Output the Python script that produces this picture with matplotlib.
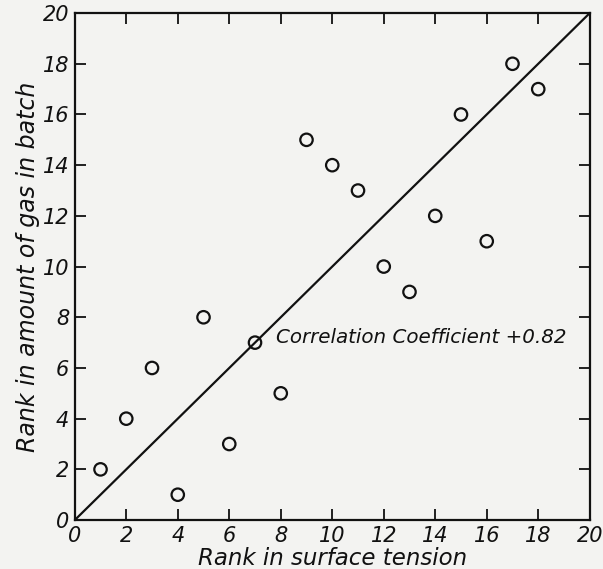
import matplotlib
matplotlib.use("Agg")
import matplotlib.pyplot as plt

surface_rank = [1, 2, 3, 4, 5, 6, 7, 8, 9, 10, 11, 12, 13, 14, 15, 16, 17, 18]
gas_rank = [2, 4, 6, 1, 8, 3, 7, 5, 15, 14, 13, 10, 9, 12, 16, 11, 18, 17]
ticks = list(range(0, 21, 2))
line_x = [0, 20]
line_y = [0, 20]

bg = "#f3f3f1"
fig = plt.figure(figsize=(6.03, 5.69), dpi=100, facecolor=bg)
ax = fig.add_axes([0.124, 0.086, 0.854, 0.891], facecolor=bg)

ax.plot(line_x, line_y, color="#111111", lw=1.6)
ax.scatter(surface_rank, gas_rank, s=80, facecolors="none", edgecolors="#111111", linewidths=1.6, zorder=3)

ax.set_xlim(0, 20)
ax.set_ylim(0, 20)
ax.set_xticks(ticks)
ax.set_yticks(ticks)
ax.tick_params(direction="in", length=8, width=1.3, top=True, right=True,
               labelsize=15, pad=4, colors="#111111")
for lab in ax.get_xticklabels() + ax.get_yticklabels():
    lab.set_fontstyle("italic")
for s in ax.spines.values():
    s.set_linewidth(1.6)
    s.set_color("#111111")

ax.set_xlabel("Rank in surface tension", fontsize=16.5, style="italic", labelpad=1, color="#111111")
ax.set_ylabel("Rank in amount of gas in batch", fontsize=17, style="italic", labelpad=2, color="#111111")
ax.text(7.8, 7.2, "Correlation Coefficient +0.82", fontsize=14.3, style="italic",
        va="center", ha="left", color="#111111")

fig.savefig("out.png", dpi=100, facecolor=bg)
